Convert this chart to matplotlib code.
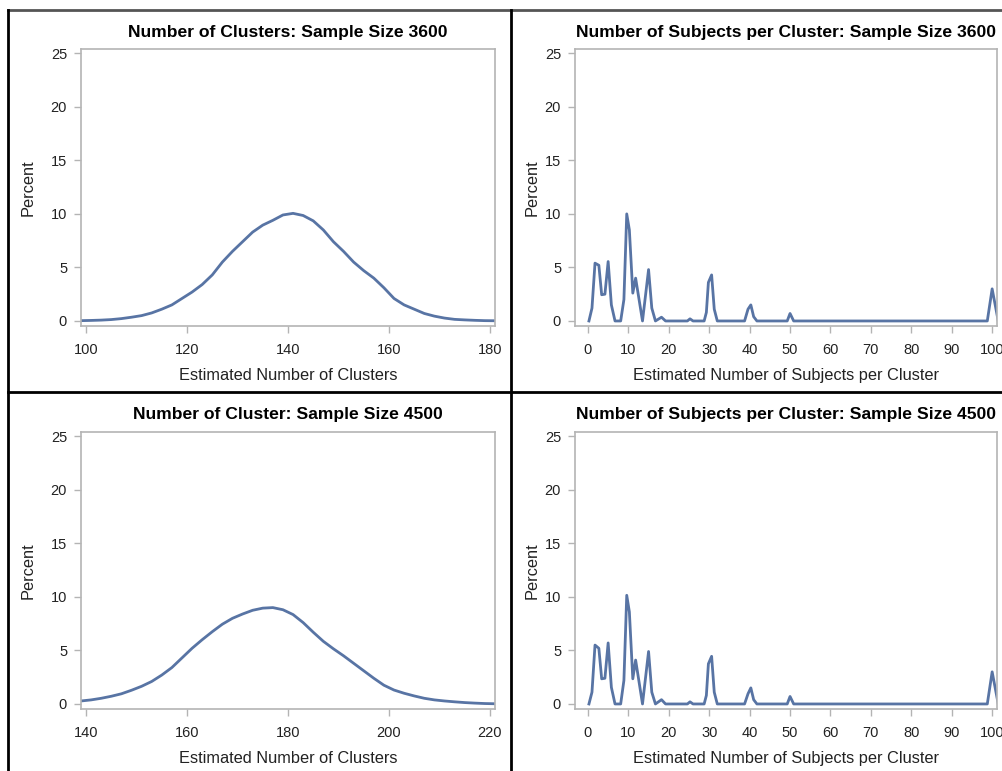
import matplotlib.pyplot as plt
from matplotlib.lines import Line2D

plt.rcParams['font.family'] = ['Liberation Sans', 'DejaVu Sans']

# Number of clusters, sample size 3600
clus_3600_x = [99, 101, 103, 105, 107, 109, 111, 113, 115, 117, 119, 121, 123, 125, 127, 129,
               131, 133, 135, 137, 139, 141, 143, 145, 147, 149, 151, 153, 155, 157, 159, 161,
               163, 165, 167, 169, 171, 173, 175, 177, 179, 181]
clus_3600_y = [0.03, 0.05, 0.08, 0.13, 0.22, 0.35, 0.5, 0.75, 1.1, 1.5, 2.1, 2.7, 3.4, 4.3, 5.5, 6.5,
               7.4, 8.3, 8.95, 9.4, 9.9, 10.05, 9.85, 9.35, 8.5, 7.4, 6.5, 5.5, 4.7, 4.0, 3.1, 2.1,
               1.5, 1.1, 0.7, 0.45, 0.27, 0.15, 0.1, 0.06, 0.03, 0.02]

# Number of clusters, sample size 4500
clus_4500_x = [139, 141, 143, 145, 147, 149, 151, 153, 155, 157, 159, 161, 163, 165, 167, 169,
               171, 173, 175, 177, 179, 181, 183, 185, 187, 189, 191, 193, 195, 197, 199, 201,
               203, 205, 207, 209, 211, 213, 215, 217, 219, 221]
clus_4500_y = [0.28, 0.38, 0.53, 0.72, 0.95, 1.28, 1.65, 2.1, 2.7, 3.4, 4.3, 5.2, 6.0, 6.75, 7.45, 8.0,
               8.4, 8.75, 8.95, 9.0, 8.8, 8.35, 7.6, 6.7, 5.85, 5.15, 4.5, 3.8, 3.1, 2.4, 1.75, 1.3,
               1.0, 0.75, 0.53, 0.38, 0.28, 0.2, 0.13, 0.08, 0.04, 0.02]

# Subjects per cluster, sample size 3600
subj_3600_x = [0.25, 1.0, 1.75, 2.7, 3.4, 4.2, 5.0, 5.8, 6.7, 8.1, 8.9, 9.6, 10.25, 11.1, 11.8,
               13.5, 15.0, 15.8, 16.7, 18.2, 19.2, 24.6, 25.25, 26.0, 28.75, 29.3, 29.8, 30.6,
               31.25, 32.0, 38.75, 39.6, 40.3, 41.0, 41.8, 49.3, 50.0, 50.9, 98.8, 100.0, 101.5]
subj_3600_y = [0.0, 1.2, 5.4, 5.2, 2.45, 2.5, 5.55, 1.5, 0.0, 0.0, 2.0, 10.0, 8.5, 2.6, 4.0,
               0.0, 4.8, 1.2, 0.0, 0.35, 0.0, 0.0, 0.2, 0.0, 0.0, 0.8, 3.6, 4.3,
               1.1, 0.0, 0.0, 1.1, 1.5, 0.4, 0.0, 0.0, 0.7, 0.0, 0.0, 3.0, 0.0]

# Subjects per cluster, sample size 4500
subj_4500_x = [0.25, 1.0, 1.75, 2.7, 3.4, 4.2, 5.0, 5.8, 6.7, 8.1, 8.9, 9.6, 10.25, 11.1, 11.8,
               13.5, 15.0, 15.8, 16.7, 18.2, 19.2, 24.6, 25.25, 26.0, 28.75, 29.3, 29.8, 30.6,
               31.25, 32.0, 38.75, 39.6, 40.3, 41.0, 41.8, 49.3, 50.0, 50.9, 98.8, 100.0, 101.5]
subj_4500_y = [0.0, 1.1, 5.5, 5.2, 2.35, 2.4, 5.7, 1.55, 0.0, 0.0, 2.2, 10.15, 8.6, 2.35, 4.1,
               0.0, 4.9, 1.1, 0.0, 0.4, 0.0, 0.0, 0.2, 0.0, 0.0, 0.8, 3.75, 4.45,
               1.1, 0.0, 0.0, 0.95, 1.5, 0.4, 0.0, 0.0, 0.7, 0.0, 0.0, 3.0, 0.0]

line_color = '#5874a4'
frame_color = '#b4b4b4'
W, H = 1003, 771

fig = plt.figure(figsize=(W / 100, H / 100), dpi=100)


def make_ax(left, top, right, bottom):
    ax = fig.add_axes([left / W, 1 - bottom / H, (right - left) / W, (bottom - top) / H])
    for s in ax.spines.values():
        s.set_color(frame_color)
        s.set_linewidth(1.2)
    ax.tick_params(direction='out', length=5, width=1, color=frame_color,
                   labelsize=10.5, labelcolor='#222222', pad=5)
    ax.tick_params(axis='x', pad=7)
    ax.set_yticks([0, 5, 10, 15, 20, 25])
    return ax


panels = [
    (81, 49, 495, 326, clus_3600_x, clus_3600_y, (99.0, 181.0), range(100, 181, 20),
     'Number of Clusters: Sample Size 3600', 'Estimated Number of Clusters', -0.109),
    (575, 49, 997, 326, subj_3600_x, subj_3600_y, (-3.2, 101.2), range(0, 101, 10),
     'Number of Subjects per Cluster: Sample Size 3600', 'Estimated Number of Subjects per Cluster', -0.085),
    (81, 432, 495, 709, clus_4500_x, clus_4500_y, (139.0, 221.0), range(140, 221, 20),
     'Number of Cluster: Sample Size 4500', 'Estimated Number of Clusters', -0.109),
    (575, 432, 997, 709, subj_4500_x, subj_4500_y, (-3.2, 101.2), range(0, 101, 10),
     'Number of Subjects per Cluster: Sample Size 4500', 'Estimated Number of Subjects per Cluster', -0.085),
]

for left, top, right, bottom, xs, ys, xlim, xt, title, xlabel, ylx in panels:
    ax = make_ax(left, top, right, bottom)
    ax.plot(xs, ys, color=line_color, linewidth=2.0, solid_joinstyle='round')
    ax.set_xlim(*xlim)
    ax.set_ylim(-0.47, 25.4)
    ax.set_xticks(list(xt))
    ax.set_title(title, fontsize=12.6, fontweight='bold', pad=9)
    ax.set_xlabel(xlabel, fontsize=11.8, color='#222222')
    ax.set_ylabel('Percent', fontsize=11.8, color='#222222')
    ax.xaxis.set_label_coords(0.5, -0.152)
    ax.yaxis.set_label_coords(ylx, 0.5)

# outer cell borders
border = dict(transform=fig.transFigure, linewidth=2, color='black')
fig.add_artist(Line2D([8 / W, 1], [1 - 10 / H, 1 - 10 / H], linewidth=2, color='#555555',
                      transform=fig.transFigure))
fig.add_artist(Line2D([8 / W, 8 / W], [0, 1 - 10 / H], **border))
fig.add_artist(Line2D([511 / W, 511 / W], [0, 1 - 10 / H], **border))
fig.add_artist(Line2D([8 / W, 1], [1 - 392 / H, 1 - 392 / H], **border))

fig.savefig('out.png', dpi=100)
